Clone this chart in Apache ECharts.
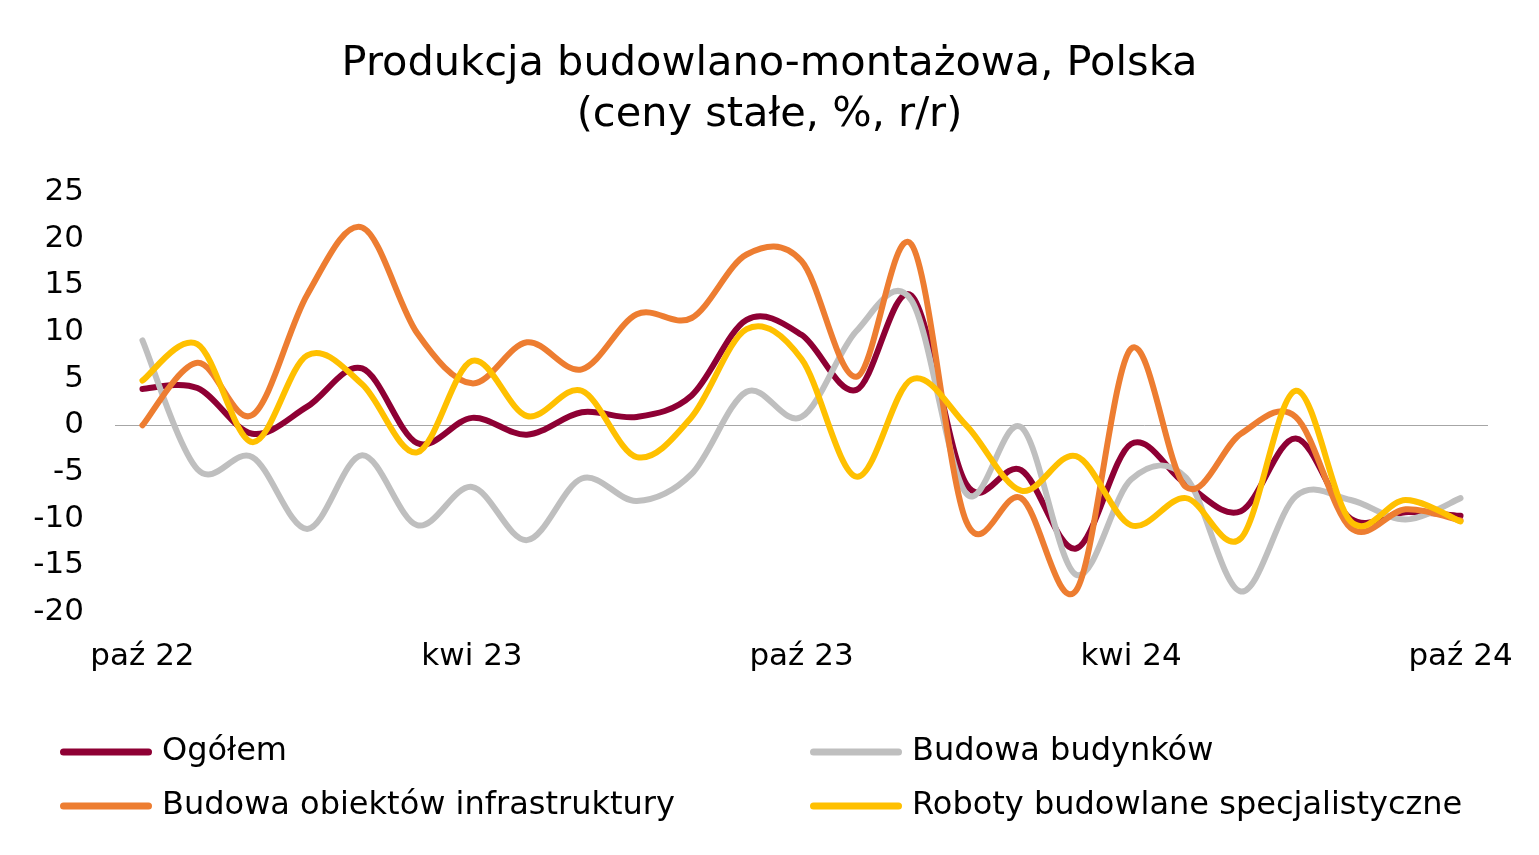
<!DOCTYPE html>
<html><head><meta charset="utf-8">
<script src="https://cdn.jsdelivr.net/npm/echarts@6/dist/echarts.min.js"></script>
<style>html,body{margin:0;padding:0;background:#fff}#c{width:1539px;height:855px}</style>
</head><body><div id="c"></div>
<script>
const categories = ["paź 22","lis 22","gru 22","sty 23","lut 23","mar 23","kwi 23","maj 23","cze 23","lip 23","sie 23","wrz 23","paź 23","lis 23","gru 23","sty 24","lut 24","mar 24","kwi 24","maj 24","cze 24","lip 24","sie 24","wrz 24","paź 24"];
const ogolem = [3.9, 4.0, -0.9, 2.0, 6.1, -1.9, 0.8, -1.0, 1.4, 0.9, 3.2, 11.3, 9.7, 3.8, 13.9, -6.3, -4.8, -13.2, -2.0, -6.3, -9.2, -1.4, -10.0, -9.3, -9.7];
const budynki = [9.1, -4.7, -3.4, -11.1, -3.2, -10.7, -6.6, -12.3, -5.7, -8.1, -5.2, 3.6, 0.9, 10.1, 13.4, -7.3, -0.2, -16.0, -5.8, -5.6, -17.8, -7.6, -8.0, -10.1, -7.8];
const infrastruktura = [0.0, 6.7, 1.1, 14.0, 21.2, 9.9, 4.5, 8.9, 6.0, 11.9, 11.5, 18.3, 17.6, 5.2, 19.4, -10.3, -7.8, -17.7, 8.2, -6.6, -0.9, 0.9, -11.0, -9.0, -10.2];
const specjalistyczne = [4.8, 8.7, -1.8, 7.5, 4.4, -2.9, 6.9, 1.0, 3.7, -3.4, 0.9, 10.3, 7.1, -5.5, 4.9, 0.0, -7.0, -3.3, -10.7, -7.8, -12.1, 3.7, -10.3, -8.0, -10.3];
const seriesNames = ["Ogółem","Budowa budynków","Budowa obiektów infrastruktury","Roboty budowlane specjalistyczne"];
const seriesColors = ["#8E0034","#BFBFBF","#ED7D31","#FFC000"];
const yTicks = {min: -20, max: 25, interval: 5};

const FONT = "DejaVu Sans";
const capsule = 'path://M3.5,0 L88.5,0 A3.5,3.5 0 0 1 88.5,7 L3.5,7 A3.5,3.5 0 0 1 3.5,0 Z';
function legend(name, left, top){
  return {data:[name], left:left, top:top, padding:0, icon:capsule, itemWidth:92, itemHeight:7,
    selectedMode:false,
    textStyle:{fontFamily:FONT, fontSize:32, color:'#000', padding:[0,0,0,5]}};
}
const datasets = [ogolem, budynki, infrastruktura, specjalistyczne];

// Excel-like smoothed line: Catmull-Rom spline through the data points mapped by the axes
function smoothRender(values, color){
  return function(params, api){
    if (params.dataIndex !== 0) return null;
    const pts = values.map((v,i)=>api.coord([i, v]));
    const n = pts.length;
    let d = 'M' + pts[0][0] + ',' + pts[0][1];
    for (let i = 0; i < n - 1; i++) {
      const p0 = pts[Math.max(0, i-1)], p1 = pts[i], p2 = pts[i+1], p3 = pts[Math.min(n-1, i+2)];
      const c1x = p1[0] + (p2[0]-p0[0])/6, c1y = p1[1] + (p2[1]-p0[1])/6;
      const c2x = p2[0] - (p3[0]-p1[0])/6, c2y = p2[1] - (p3[1]-p1[1])/6;
      d += ' C' + c1x + ',' + c1y + ' ' + c2x + ',' + c2y + ' ' + p2[0] + ',' + p2[1];
    }
    return {type:'path', shape:{pathData:d},
      style:{stroke:color, fill:'none', lineWidth:6, lineCap:'round', lineJoin:'round'}};
  };
}

const chart = echarts.init(document.getElementById('c'), null, {renderer:'canvas'});
chart.setOption({
  backgroundColor:'#fff',
  animation:false,
  color: seriesColors,
  textStyle:{fontFamily:FONT},
  title:{text:'Produkcja budowlano-montażowa, Polska\n(ceny stałe, %, r/r)', left:'center', top:34,
    textStyle:{fontFamily:FONT, fontSize:41.5, fontWeight:'normal', color:'#000', lineHeight:51, align:'center'}},
  legend:[
    legend(seriesNames[0], 60, 736),
    legend(seriesNames[1], 810, 736),
    legend(seriesNames[2], 60, 790),
    legend(seriesNames[3], 810, 790)
  ],
  grid:{left:115, right:51, top:192, bottom:243, containLabel:false, outerBoundsMode:'none'},
  xAxis:{type:'category', data:categories, boundaryGap:true,
    axisLine:{show:false}, axisTick:{show:false}, splitLine:{show:false},
    axisLabel:{interval:5, margin:29, fontFamily:FONT, fontSize:31, color:'#000'}},
  yAxis:{type:'value', min:yTicks.min, max:yTicks.max, interval:yTicks.interval,
    axisLine:{show:false}, axisTick:{show:false}, splitLine:{show:false},
    axisLabel:{margin:31, fontFamily:FONT, fontSize:31, color:'#000'}},
  series:[
    {type:'line', name:'_zero', data:[], z:1, silent:true,
     markLine:{silent:true, z:1, symbol:'none', label:{show:false}, animation:false,
       lineStyle:{color:'#A6A6A6', width:1, type:'solid'}, data:[{yAxis:0}]}}
  ].concat(datasets.map((d,i)=>({
    type:'custom', name:seriesNames[i], coordinateSystem:'cartesian2d', z:2, silent:true,
    data:d.map((v,k)=>[k, v]), encode:{x:0, y:1},
    renderItem: smoothRender(d, seriesColors[i]),
    itemStyle:{color:seriesColors[i]}
  })))
});
</script>
</body></html>
